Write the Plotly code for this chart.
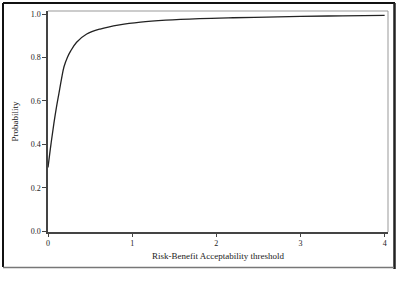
import plotly.graph_objects as go

threshold = [0, 0.035, 0.07, 0.1, 0.13, 0.16, 0.19, 0.23, 0.27, 0.34, 0.46, 0.62,
             0.85, 1.1, 1.4, 1.8, 2.2, 2.6, 3.0, 3.5, 4.0]
probability = [0.293, 0.40, 0.496, 0.57, 0.635, 0.70, 0.757, 0.80, 0.83, 0.87, 0.908, 0.931,
               0.95, 0.963, 0.972, 0.979, 0.983, 0.986, 0.989, 0.992, 0.994]
x_ticks = [0, 1, 2, 3, 4]
y_ticks = [0.0, 0.2, 0.4, 0.6, 0.8, 1.0]
y_tick_labels = ["0.0", "0.2", "0.4", "0.6", "0.8", "1.0"]

W, H = 400, 285
L, R, T, B = 48, 12, 11, 53
pw, ph = W - L - R, H - T - B

def px(x):
    return (x - L) / pw

def py(y):
    return (H - B - y) / ph

fig = go.Figure(go.Scatter(x=threshold, y=probability, mode="lines",
                           line=dict(color="#222222", width=1.3, shape="spline", smoothing=1.0),
                           hoverinfo="skip"))

font = dict(family="Liberation Serif, Times New Roman, serif", color="#222222")

fig.update_layout(
    width=W, height=H, margin=dict(l=L, r=R, t=T, b=B),
    paper_bgcolor="white", plot_bgcolor="white", showlegend=False,
    font=font,
    xaxis=dict(range=[0, 4.04], tickvals=x_ticks, ticks="outside", ticklen=3, tickwidth=1,
               tickcolor="#444", showgrid=False, zeroline=False, showline=True,
               linecolor="#444", linewidth=1.5, tickfont=dict(size=8, **font),
               title=dict(text="Risk-Benefit Acceptability threshold", font=dict(size=9, **font),
                          standoff=5)),
    yaxis=dict(range=[-0.004, 1.014], tickvals=y_ticks, ticktext=y_tick_labels,
               ticks="outside", ticklen=4, tickwidth=1, tickcolor="#444",
               showgrid=False, zeroline=False, showline=True,
               linecolor="#444", linewidth=1.5, tickfont=dict(size=8, **font),
               title=dict(text="Probability", font=dict(size=9, **font), standoff=11)),
    shapes=[
        # plot area top/right grey border
        dict(type="line", xref="paper", yref="paper", x0=0, x1=1, y0=1, y1=1,
             line=dict(color="#999999", width=1)),
        dict(type="line", xref="paper", yref="paper", x0=1, x1=1, y0=0, y1=1,
             line=dict(color="#999999", width=1)),
        # outer frame
        dict(type="line", xref="paper", yref="paper", x0=px(3), x1=px(3), y0=py(267), y1=py(3),
             line=dict(color="#111111", width=2)),
        dict(type="line", xref="paper", yref="paper", x0=px(3), x1=px(395), y0=py(3), y1=py(3),
             line=dict(color="#111111", width=2)),
        dict(type="line", xref="paper", yref="paper", x0=px(394.5), x1=px(394.5), y0=py(269), y1=py(3),
             line=dict(color="#222222", width=2.5)),
        dict(type="line", xref="paper", yref="paper", x0=px(3), x1=px(394), y0=py(267.5), y1=py(267.5),
             line=dict(color="#777777", width=1.5)),
    ],
)

fig.write_html("out.html")
